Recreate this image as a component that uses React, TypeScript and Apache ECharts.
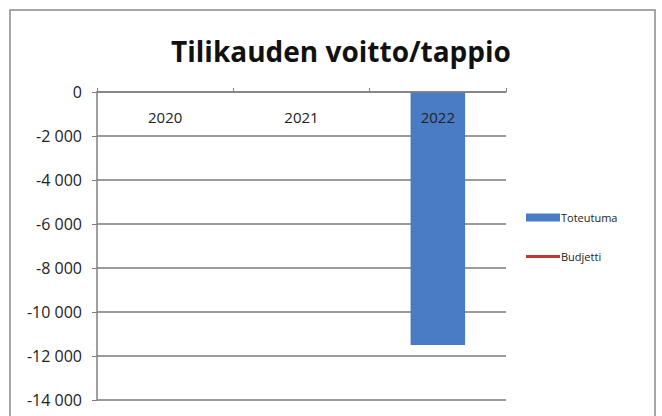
import React, { useEffect, useRef } from "react";
import * as echarts from "echarts";

const categories = ["2020", "2021", "2022"];
const toteutuma = [null, null, -11500];
const budjetti = [null, null, null];
const yTicks = { min: -14000, max: 0, interval: 2000 };

function fmt(v: number): string {
  const s = Math.abs(v).toString().replace(/\B(?=(\d{3})+(?!\d))/g, " ");
  return (v < 0 ? "-" : "") + s;
}

export default function App() {
  const ref = useRef<HTMLDivElement>(null);
  useEffect(() => {
    document.body.style.margin = "0";
    const chart = echarts.init(ref.current!, null, { renderer: "svg" });
    const font = "'Open Sans', 'Liberation Sans', sans-serif";
    chart.setOption({
      animation: false,
      backgroundColor: "#ffffff",
      title: {
        text: "Tilikauden voitto/tappio",
        left: 336,
        top: 32,
        textAlign: "center",
        textStyle: { fontFamily: font, fontWeight: "bold", fontSize: 28, color: "#111" },
      },
      graphic: [
        {
          type: "rect",
          shape: { x: 10, y: 10, width: 645, height: 420 },
          style: { fill: "none", stroke: "#8a8a8a", lineWidth: 1.5 },
          silent: true,
          z: -1,
        },
      ],
      legend: {
        orient: "vertical",
        left: 521,
        top: 207,
        itemGap: 28,
        itemWidth: 34,
        itemHeight: 8,
        symbolKeepAspect: true,
        textStyle: { fontFamily: font, fontSize: 11, color: "#222", padding: [0, 0, 0, -4] },
        data: [
          { name: "Toteutuma", icon: "rect" },
          { name: "Budjetti", icon: "path://M0,0 H34 V3 H0 Z" },
        ],
      },
      grid: { left: 97, right: 156, top: 92, bottom: 16, containLabel: false },
      xAxis: {
        type: "category",
        position: "top",
        data: categories,
        axisLine: { show: true, lineStyle: { color: "#808080", width: 1.5 } },
        axisTick: { show: true, inside: false, length: 4, lineStyle: { color: "#808080" } },
        axisLabel: {
          inside: true,
          margin: 17,
          fontFamily: font,
          fontSize: 15,
          color: "#222",
        },
        z: 5,
      },
      yAxis: {
        type: "value",
        min: yTicks.min,
        max: yTicks.max,
        interval: yTicks.interval,
        axisLine: { show: true, lineStyle: { color: "#808080", width: 1.5 } },
        axisTick: { show: true, length: 5, lineStyle: { color: "#808080" } },
        splitLine: { show: true, lineStyle: { color: "#7a7a7a", width: 1.5 } },
        axisLabel: {
          margin: 15,
          fontFamily: font,
          fontSize: 16,
          color: "#222",
          formatter: (v: number) => fmt(v),
        },
      },
      series: [
        {
          name: "Toteutuma",
          type: "bar",
          data: toteutuma,
          barWidth: "40%",
          itemStyle: { color: "#4a7cc6" },
          z: 3,
        },
        {
          name: "Budjetti",
          type: "line",
          data: budjetti,
          symbol: "none",
          lineStyle: { color: "#c0392f", width: 3 },
          itemStyle: { color: "#c0392f" },
        },
      ],
    });
    return () => chart.dispose();
  }, []);
  return <div ref={ref} style={{ width: 662, height: 416 }} />;
}
